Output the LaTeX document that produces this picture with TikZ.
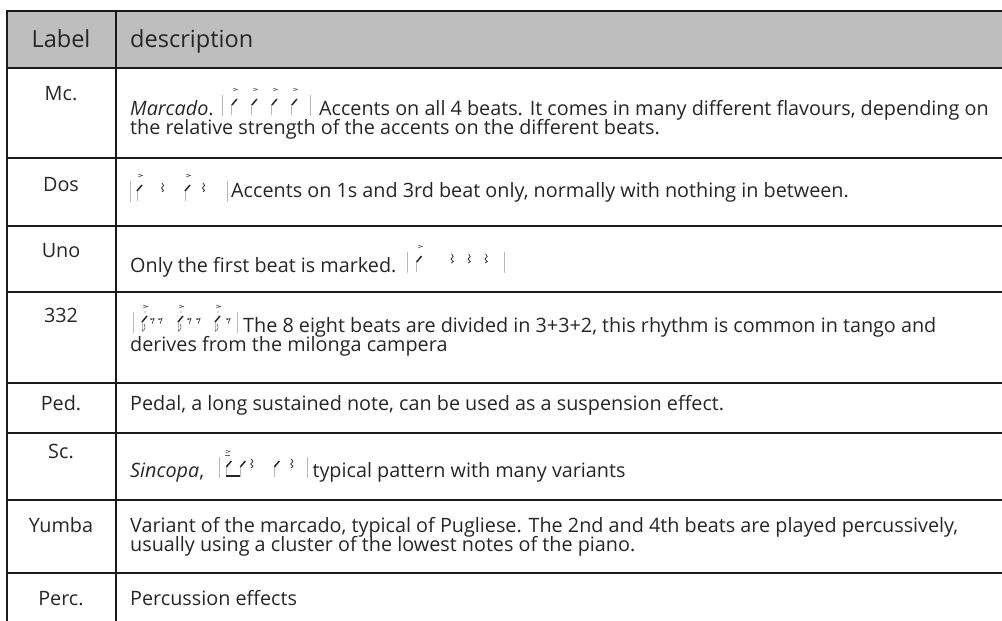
\documentclass[tikz,border=0pt]{standalone}
\usepackage{fontspec}
\setmainfont{Open Sans}
\usetikzlibrary{calc}
\definecolor{txt}{HTML}{262626}
\definecolor{hdr}{HTML}{BEBEBE}
\definecolor{rulec}{HTML}{1A1A1A}
\newlength\measlen
\newlength\measlenb
\tikzset{
  gridline/.style={draw=rulec, line width=1.7pt},
  body/.style={inner sep=0pt, anchor=base west, text=txt, font=\fontsize{\bodysize pt}{20pt}\selectfont},
  lab/.style={inner sep=0pt, anchor=base, text=txt, font=\fontsize{\bodysize pt}{20pt}\selectfont},
  head/.style={inner sep=0pt, text=txt, font=\fontsize{\headsize pt}{24pt}\selectfont},
  nstem/.style={draw=gray!55, line width=1pt},
  nhead/.style={draw=black!85, line width=1.5pt},
  nbarline/.style={draw=gray!55, line width=0.9pt},
  pics/nslash/.style={code={
    \draw[nstem] (0,0)--(0,-11);
    \draw[nhead] (0,-10)--(5,-16);}},
  pics/nacc/.style={code={
    \draw[black!70, line width=0.5pt] (1,-27)--(5.5,-25.5)--(1,-24);}},
  pics/nflag/.style={code={
    \draw[nstem] (0,0)--(0,-11);
    \draw[nhead] (0,-10)--(5,-16);
    \draw[black!70, line width=0.6pt] (0,-1) .. controls (3,-2) and (4,-5) .. (2,-8);
    \fill[black!70] (3,-20) circle (0.7);}},
  pics/nqrest/.style={code={
    \draw[black!80, line width=0.8pt] (0,-18)--(1.6,-15.5)--(-0.6,-13)--(1.6,-10.5)--(-0.2,-9);}},
  pics/nerest/.style={code={
    \fill[black!80] (0,-13) circle (0.9);
    \draw[black!80, line width=0.7pt] (0,-12.5)--(3,-13.5)--(1.2,-8.5);}},
  pics/nbar/.style={code={
    \draw[nbarline] (0,1)--(0,-20);}},
}
\begin{document}
\settowidth\measlen{\fontsize{10pt}{12pt}\selectfont Variant of the marcado, typical of Pugliese. The 2nd and 4th beats are played percussively,}%
\pgfmathsetmacro\bodysize{10*828/\measlen}%
\settowidth\measlenb{\fontsize{10pt}{12pt}\selectfont description}%
\pgfmathsetmacro\headsize{10*123/\measlenb}%
\begin{tikzpicture}[x=1pt, y=-1pt]
\useasboundingbox (0,0) rectangle (1002,621);
% header
\fill[hdr] (7,11) rectangle (1002,68);
% horizontal rules
\foreach \yy in {11,68,158,226,292,383,433,500,573}
  \draw[gridline] (7,\yy) -- (1002,\yy);
% vertical rules
\draw[gridline] (7,10.15) -- (7,621);
\draw[gridline] (116,10.15) -- (116,621);

% header texts
\node[head, anchor=base] (hlabel) at (61,47) {Label};
\node[head, anchor=base west] (hdesc) at (130,47) {description};

% labels
\node[lab] (lmc) at (61,100) {Mc.};
\node[lab] (ldos) at (61,191) {Dos};
\node[lab] (luno) at (61,257) {Uno};
\node[lab] (l332) at (61,322) {332};
\node[lab] (lped) at (61,410) {Ped.};
\node[lab] (lsc) at (61,458) {Sc.};
\node[lab] (lyum) at (61,532) {Yumba};
\node[lab] (lperc) at (61,605) {Perc.};

% Mc row
\node[body] (mca) at (130,115) {\textit{Marcado}.};
\coordinate (mcn) at ($(mca.base east)+(9,0)$);
\begin{scope}[shift={(mcn)}]
  \pic at (0,0) {nbar};
  \foreach \xx in {9,29,49,69} {\pic at (\xx,0) {nslash}; \pic at (\xx,0) {nacc};}
  \pic at (88,0) {nbar};
  \coordinate (mcend) at (96,0);
\end{scope}
\node[body] (mcb) at (mcend) {Accents on all 4 beats. It comes in many different flavours, depending on};
\node[body] (mcc) at (130,134) {the relative strength of the accents on the different beats.};

% Dos row
\begin{scope}[shift={(130,201)}]
  \pic at (0,0) {nbar};
  \pic at (7,0) {nslash}; \pic at (7,0) {nacc};
  \pic at (32,0) {nqrest};
  \pic at (55,0) {nslash}; \pic at (55,0) {nacc};
  \pic at (73,0) {nqrest};
  \pic at (97,0) {nbar};
\end{scope}
\node[body] (dosa) at (231,197) {Accents on 1s and 3rd beat only, normally with nothing in between.};

% Uno row
\node[body] (unoa) at (130,272) {Only the first beat is marked.};
\coordinate (unon) at ($(unoa.base east)+(11,0)$);
\begin{scope}[shift={(unon)}]
  \pic at (0,0) {nbar};
  \pic at (9,0) {nslash}; \pic at (9,0) {nacc};
  \foreach \xx in {44,61,78} \pic at (\xx,0) {nqrest};
  \pic at (97,0) {nbar};
\end{scope}

% 332 row
\begin{scope}[shift={(133,332)}]
  \pic at (0,0) {nbar};
  \pic at (9,0) {nflag}; \pic at (9,0) {nacc};
  \pic at (18,0) {nerest}; \pic at (26,0) {nerest};
  \pic at (45,0) {nflag}; \pic at (45,0) {nacc};
  \pic at (55,0) {nerest}; \pic at (64,0) {nerest};
  \pic at (82,0) {nflag}; \pic at (82,0) {nacc};
  \pic at (94,0) {nerest};
  \pic at (104,0) {nbar};
  \coordinate (n332end) at (110,0);
\end{scope}
\node[body] (t332a) at (n332end) {The 8 eight beats are divided in 3+3+2, this rhythm is common in tango and};
\node[body] (t332b) at (130,351) {derives from the milonga campera};

% Ped row
\node[body] (peda) at (130,410) {Pedal, a long sustained note, can be used as a suspension effect.};

% Sc row
\node[body] (sca) at (130,477) {\textit{Sincopa},};
\coordinate (scn) at ($(sca.base east)+(15,0)$);
\begin{scope}[shift={(scn)}]
  \pic at (0,0) {nbar};
  \draw[nstem] (7,0)--(7,-11); \draw[nhead] (7,-10)--(12,-16);
  \draw[nstem] (21,0)--(21,-11); \draw[nhead] (21,-10)--(26,-16);
  \draw[black!85, line width=1.4pt] (7,-1)--(21,-1);
  \pic at (5,0) {nacc};
  \draw[black!60, line width=0.5pt] (6,-22)--(11,-22);
  \pic at (32,0) {nqrest};
  \pic at (55,0) {nslash};
  \pic at (72,0) {nqrest};
  \pic at (88,0) {nbar};
  \coordinate (scend) at (93,0);
\end{scope}
\node[body] (scb) at (scend) {typical pattern with many variants};

% Yumba row
\node[body] (yuma) at (130,532) {Variant of the marcado, typical of Pugliese. The 2nd and 4th beats are played percussively,};
\node[body] (yumb) at (130,551) {usually using a cluster of the lowest notes of the piano.};

% Perc row
\node[body] (perca) at (130,605) {Percussion effects};
\end{tikzpicture}
\end{document}
